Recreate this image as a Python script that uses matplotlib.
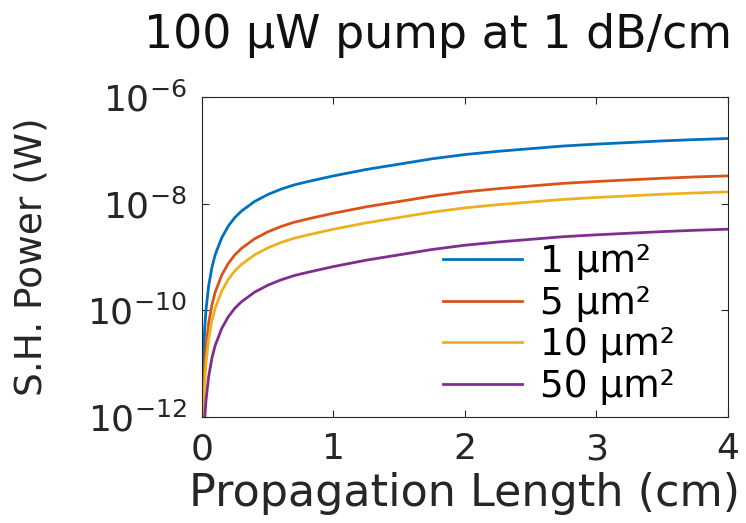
import matplotlib.pyplot as plt
import numpy as np

plt.rcParams['font.family'] = ['DejaVu Sans']
plt.rcParams['mathtext.fontset'] = 'dejavusans'

# propagation length (cm)
length_cm = [0.003, 0.005, 0.01, 0.02, 0.03, 0.05, 0.075, 0.1, 0.15, 0.2, 0.25, 0.3, 0.4, 0.5, 0.6,
             0.7, 0.8, 0.9, 1.0, 1.25, 1.5, 1.75, 2.0, 2.25, 2.5, 2.75, 3.0, 3.25, 3.5, 3.75, 4.0]

# log10 of S.H. power (W)
log_p_1um2 = [-12.1, -11.6, -10.95, -10.35, -10.0, -9.55, -9.2, -8.96, -8.64, -8.42, -8.26, -8.14, -7.96,
              -7.83, -7.73, -7.65, -7.59, -7.535, -7.48, -7.36, -7.26, -7.16, -7.08, -7.02, -6.97,
              -6.92, -6.885, -6.855, -6.825, -6.80, -6.78]
log_p_5um2 = [-12.8, -12.3, -11.65, -11.05, -10.7, -10.25, -9.9, -9.66, -9.34, -9.12, -8.96, -8.84, -8.66,
              -8.53, -8.43, -8.35, -8.29, -8.235, -8.18, -8.06, -7.96, -7.86, -7.78, -7.72, -7.67,
              -7.62, -7.585, -7.555, -7.525, -7.50, -7.48]
log_p_10um2 = [-13.1, -12.6, -11.95, -11.35, -11.0, -10.55, -10.2, -9.96, -9.64, -9.42, -9.26, -9.14, -8.96,
               -8.83, -8.73, -8.65, -8.59, -8.535, -8.48, -8.36, -8.26, -8.16, -8.08, -8.02, -7.97,
               -7.92, -7.885, -7.855, -7.825, -7.80, -7.78]
log_p_50um2 = [-13.8, -13.3, -12.65, -12.05, -11.7, -11.25, -10.9, -10.66, -10.34, -10.12, -9.96, -9.84, -9.66,
               -9.53, -9.43, -9.35, -9.29, -9.235, -9.18, -9.06, -8.96, -8.86, -8.78, -8.72, -8.67,
               -8.62, -8.585, -8.555, -8.525, -8.50, -8.48]

labels = ['1 µm²', '5 µm²', '10 µm²', '50 µm²']
colors = ['#0072BD', '#D95319', '#EDB120', '#7E2F8E']
series = [log_p_1um2, log_p_5um2, log_p_10um2, log_p_50um2]

fig = plt.figure(figsize=(7.46, 5.23), dpi=100)
ax = fig.add_axes([0.2708, 0.2027, 0.705, 0.612])

for vals, lab, col in zip(series, labels, colors):
    ax.plot(length_cm, 10.0 ** np.array(vals), color=col, lw=2, label=lab)

ax.set_yscale('log')
ax.set_xlim(0, 4)
ax.set_ylim(1e-12, 1e-6)
ax.set_xticks([0, 1, 2, 3, 4])
ax.set_yticks([1e-12, 1e-10, 1e-8, 1e-6])
ax.minorticks_off()
ax.tick_params(direction='in', length=5, width=0.8, top=True, right=True,
               labelsize=26, colors='#262626', pad=11)
for sp in ax.spines.values():
    sp.set_color('#262626')
    sp.set_linewidth(0.8)

ax.set_xlabel('Propagation Length (cm)', fontsize=32, color='#262626', labelpad=4)
ax.set_ylabel('S.H. Power (W)', fontsize=27, color='#262626')
ax.yaxis.set_label_coords(-0.29, 0.5)
# title sits a little left of the axes centre in the original
fig.text(0.587, 1 - 48 / 523, '100 µW pump at 1 dB/cm', fontsize=33, color='#111111',
         ha='center', va='baseline')

ax.legend(loc='upper left', bbox_to_anchor=(0.458, 0.54), frameon=False, fontsize=27,
          handlelength=2.1, handletextpad=0.5, labelspacing=0.15, borderpad=0, borderaxespad=0)

fig.savefig('out.png', dpi=100)
